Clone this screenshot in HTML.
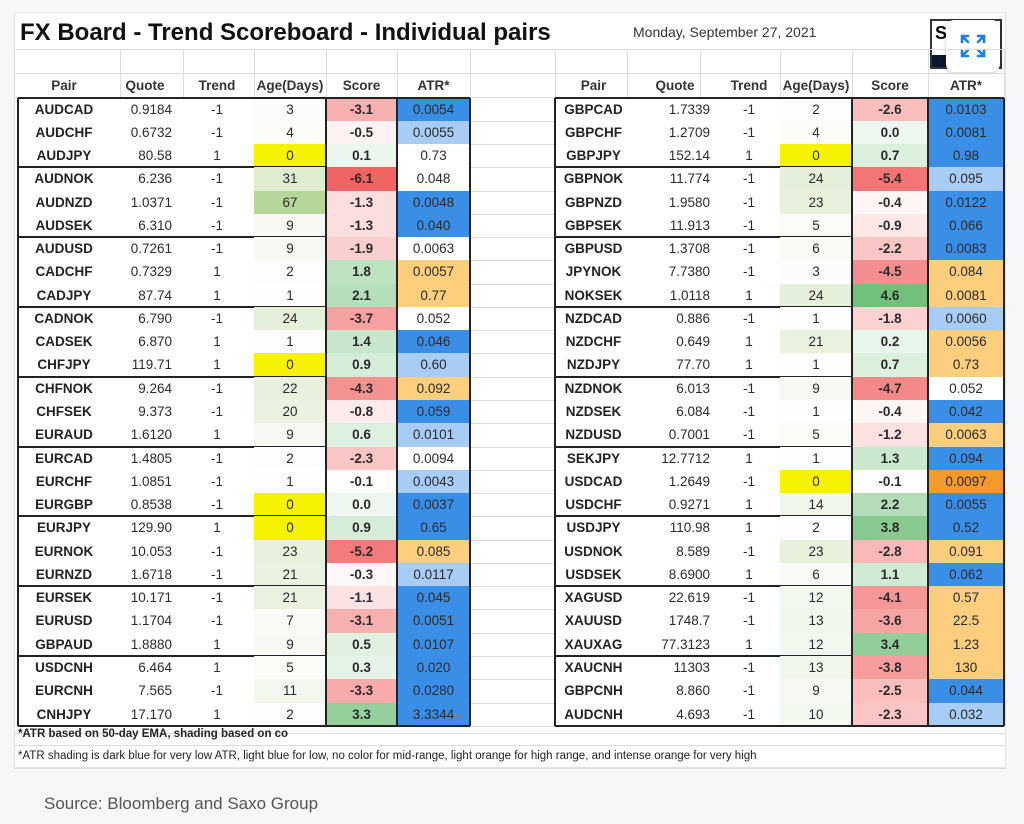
<!DOCTYPE html>
<html><head><meta charset="utf-8"><style>
body{margin:0;width:1024px;height:824px;background:#f6f7f9;position:relative;overflow:hidden;font-family:"Liberation Sans",sans-serif;}
#img{position:absolute;left:14px;top:12px;width:992px;height:756px;background:#fff;border:1px solid #e3e3e3;box-sizing:border-box;}
.c{position:absolute;font-size:13.5px;color:#2a2a2a;line-height:23px;box-sizing:border-box;white-space:nowrap;}
.gl{position:absolute;background:#dcdcdc;}
.bl{position:absolute;background:#222;}
</style></head><body>
<div id="img"></div>
<div class="c" style="left:20px;top:18px;font-size:24px;font-weight:bold;color:#111;line-height:30px">FX Board - Trend Scoreboard - Individual pairs</div>
<div class="c" style="left:633px;top:21px;font-size:14px;color:#333">Monday, September 27, 2021</div>
<div style="position:absolute;left:930px;top:19px;width:72px;height:50px;border:2px solid #333;background:#fff;box-sizing:border-box"><div style="position:absolute;left:3px;top:2px;font-weight:bold;font-size:18px">S</div><div style="position:absolute;left:0;bottom:0;width:100%;height:12px;background:#0c1730"></div></div>
<div style="position:absolute;left:946px;top:20px;width:54px;height:52px;background:#fff;border-radius:8px;box-shadow:0 1px 4px rgba(0,0,0,.2)">
<svg width="54" height="52" viewBox="0 0 54 52"><g stroke="#1a7ef0" stroke-width="2.6" fill="none" stroke-linecap="round"><path d="M16 22v-6h6M16 16l6 6M38 22v-6h-6M38 16l-6 6M16 30v6h6M16 36l6-6M38 30v6h-6M38 36l-6-6"/></g></svg></div>
<div class="c" style="left:44px;top:792px;font-size:17px;color:#555">Source: Bloomberg and Saxo Group</div>
<div id="t"></div>
<script>
var L=[["AUDCAD","0.9184",-1,3,-3.1,"0.0054","D"],["AUDCHF","0.6732",-1,4,-0.5,"0.0055","L"],["AUDJPY","80.58",1,0,0.1,"0.73",""],["AUDNOK","6.236",-1,31,-6.1,"0.048",""],["AUDNZD","1.0371",-1,67,-1.3,"0.0048","D"],["AUDSEK","6.310",-1,9,-1.3,"0.040","D"],["AUDUSD","0.7261",-1,9,-1.9,"0.0063",""],["CADCHF","0.7329",1,2,1.8,"0.0057","O"],["CADJPY","87.74",1,1,2.1,"0.77","O"],["CADNOK","6.790",-1,24,-3.7,"0.052",""],["CADSEK","6.870",1,1,1.4,"0.046","D"],["CHFJPY","119.71",1,0,0.9,"0.60","L"],["CHFNOK","9.264",-1,22,-4.3,"0.092","O"],["CHFSEK","9.373",-1,20,-0.8,"0.059","D"],["EURAUD","1.6120",1,9,0.6,"0.0101","L"],["EURCAD","1.4805",-1,2,-2.3,"0.0094",""],["EURCHF","1.0851",-1,1,-0.1,"0.0043","L"],["EURGBP","0.8538",-1,0,0.0,"0.0037","D"],["EURJPY","129.90",1,0,0.9,"0.65","D"],["EURNOK","10.053",-1,23,-5.2,"0.085","O"],["EURNZD","1.6718",-1,21,-0.3,"0.0117","L"],["EURSEK","10.171",-1,21,-1.1,"0.045","D"],["EURUSD","1.1704",-1,7,-3.1,"0.0051","D"],["GBPAUD","1.8880",1,9,0.5,"0.0107","D"],["USDCNH","6.464",1,5,0.3,"0.020","D"],["EURCNH","7.565",-1,11,-3.3,"0.0280","D"],["CNHJPY","17.170",1,2,3.3,"3.3344","D"]];
var R=[["GBPCAD","1.7339",-1,2,-2.6,"0.0103","D"],["GBPCHF","1.2709",-1,4,0.0,"0.0081","D"],["GBPJPY","152.14",1,0,0.7,"0.98","D"],["GBPNOK","11.774",-1,24,-5.4,"0.095","L"],["GBPNZD","1.9580",-1,23,-0.4,"0.0122","D"],["GBPSEK","11.913",-1,5,-0.9,"0.066","D"],["GBPUSD","1.3708",-1,6,-2.2,"0.0083","D"],["JPYNOK","7.7380",-1,3,-4.5,"0.084","O"],["NOKSEK","1.0118",1,24,4.6,"0.0081","O"],["NZDCAD","0.886",-1,1,-1.8,"0.0060","L"],["NZDCHF","0.649",1,21,0.2,"0.0056","O"],["NZDJPY","77.70",1,1,0.7,"0.73","O"],["NZDNOK","6.013",-1,9,-4.7,"0.052",""],["NZDSEK","6.084",-1,1,-0.4,"0.042","D"],["NZDUSD","0.7001",-1,5,-1.2,"0.0063","O"],["SEKJPY","12.7712",1,1,1.3,"0.094","D"],["USDCAD","1.2649",-1,0,-0.1,"0.0097","I"],["USDCHF","0.9271",1,14,2.2,"0.0055","D"],["USDJPY","110.98",1,2,3.8,"0.52","D"],["USDNOK","8.589",-1,23,-2.8,"0.091","O"],["USDSEK","8.6900",1,6,1.1,"0.062","D"],["XAGUSD","22.619",-1,12,-4.1,"0.57","O"],["XAUUSD","1748.7",-1,13,-3.6,"22.5","O"],["XAUXAG","77.3123",1,12,3.4,"1.23","O"],["XAUCNH","11303",-1,13,-3.8,"130","O"],["GBPCNH","8.860",-1,9,-2.5,"0.044","D"],["AUDCNH","4.693",-1,10,-2.3,"0.032","L"]];
var ATRC={D:"#3a8ee6",L:"#a8cdf4",O:"#fbcf7e",I:"#f39a2c","":"transparent"};
var h="",y0=97.5,p=23.27;
function mix(a,b,t){return "rgb("+a.map(function(v,i){return Math.round(v+(b[i]-v)*t)}).join(",")+")"}
function sc(v){if(v<0)return mix([255,255,255],[240,100,100],Math.min(1,-v/6.1));return mix([255,255,255],[110,190,120],Math.min(1,v/4.6)*0.85+0.12);}
function ag(a){if(a==0)return "#f6f200";return mix([255,255,255],[160,200,120],Math.min(1,a/67)*0.75);}
function cell(x,w,y,txt,st,al){h+='<div class="c" style="left:'+x+'px;top:'+y+'px;width:'+w+'px;height:'+p+'px;text-align:'+(al||"center")+';'+(st||"")+'">'+txt+'</div>';}
function tbl(D,c){
 var hy=74;var hs="font-weight:bold;color:#333;";
 cell(c[0],c[1]-c[0],hy,"Pair",hs);cell(c[1],c[2]-c[1],hy,"Quote",hs);cell(c[2],c[3]-c[2],hy,"Trend",hs);cell(c[3],c[4]-c[3],hy,"Age(Days)",hs);cell(c[4],c[5]-c[4],hy,"Score",hs);cell(c[5],c[6]-c[5],hy,"ATR*",hs);
 D.forEach(function(r,i){var y=y0+p*i;
  cell(c[0],c[1]-c[0],y,r[0],"font-weight:bold;color:#222");
  cell(c[1],c[2]-c[1]-8,y,r[1],"","right");
  cell(c[2],c[3]-c[2],y,r[2]);
  cell(c[3],c[4]-c[3],y,r[3],"background:"+ag(r[3]));
  cell(c[4],c[5]-c[4],y,r[4].toFixed(1),"font-weight:bold;background:"+sc(r[4]));
  cell(c[5],c[6]-c[5],y,r[5],"background:"+ATRC[r[6]]);
  if(i%3==2&&i<26)h+='<div class="bl" style="left:'+c[0]+'px;top:'+(y+p-1)+'px;width:'+(c[4]-c[0])+'px;height:2px"></div>';
 });
 var yb=y0+p*27;
 h+='<div class="bl" style="left:'+c[0]+'px;top:'+(y0-1)+'px;width:'+(c[6]-c[0])+'px;height:2px"></div>';
 h+='<div class="bl" style="left:'+c[0]+'px;top:'+(yb-1)+'px;width:'+(c[6]-c[0])+'px;height:2px"></div>';
 [c[0],c[4],c[5],c[6]].forEach(function(x){h+='<div class="bl" style="left:'+(x-1)+'px;top:'+y0+'px;width:2px;height:'+(yb-y0)+'px"></div>';});
}
[49,73,97,733,745,768].forEach(function(y){h+='<div class="gl" style="left:14px;top:'+y+'px;width:992px;height:1px"></div>';});
[14,120,183,254,326,397,470,555,627,700,780,852,928,1004].forEach(function(x){h+='<div class="gl" style="left:'+x+'px;top:49px;width:1px;height:48px"></div>';});
for(var i=0;i<27;i++){h+='<div class="gl" style="left:470px;top:'+(y0+p*i+p)+'px;width:85px;height:1px"></div>';}
tbl(L,[18,110,180,254,326,397,470]);
tbl(R,[555,632,718,780,852,928,1004]);
h+='<div class="c" style="left:18px;top:723px;font-size:11.5px;font-weight:bold;color:#222">*ATR based on 50-day EMA, shading based on co</div>';
h+='<div class="c" style="left:18px;top:745px;font-size:11.5px;color:#222">*ATR shading is dark blue for very low ATR, light blue for low, no color for mid-range, light orange for high range, and intense orange for very high</div>';
document.getElementById("t").innerHTML=h;
</script>
</body></html>
